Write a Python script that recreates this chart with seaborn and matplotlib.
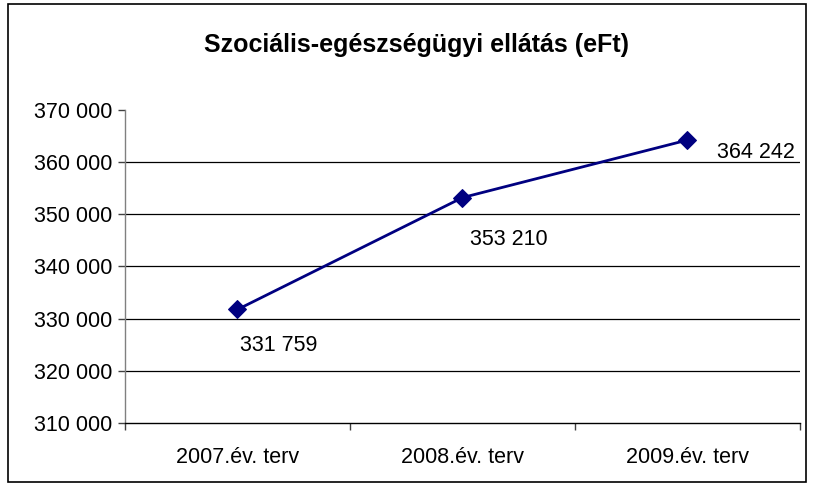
import numpy as np
import pandas as pd
import matplotlib
matplotlib.use("Agg")
import matplotlib.pyplot as plt
import seaborn as sns
from matplotlib.patches import Rectangle
from matplotlib.ticker import FuncFormatter, FixedLocator

CATEGORIES = ["2007.év. terv", "2008.év. terv", "2009.év. terv"]
VALUES     = [331759, 353210, 364242]
LABEL_OFFSETS = [(41, -36), (46, -42), (68, -12)]  # pixels from point
TITLE      = "Szociális-egészségügyi ellátás (eFt)"

LINE_COLOR = "#000080"
FS = 15.5

sns.set_theme(style="white")
plt.rcParams["font.family"] = ["Liberation Sans", "DejaVu Sans"]
plt.rcParams["text.color"] = "black"
plt.rcParams["xtick.labelcolor"] = "black"
plt.rcParams["ytick.labelcolor"] = "black"

fig = plt.figure(figsize=(8.14, 4.86), dpi=100)
W, H = 814, 486
ax = fig.add_axes([125 / W, 1 - 423 / H, (800 - 125) / W, (423 - 110) / H])

df = pd.DataFrame({"cat": CATEGORIES, "val": VALUES})
sns.lineplot(data=df, x="cat", y="val", ax=ax, sort=False, color=LINE_COLOR,
             linewidth=2, marker="D", markersize=9, markeredgecolor=LINE_COLOR)

fmt = lambda v: f"{int(v):,}".replace(",", " ")
for i, (v, off) in enumerate(zip(VALUES, LABEL_OFFSETS)):
    ax.annotate(fmt(v), (i, v), xytext=off, textcoords="offset pixels",
                ha="center", va="center", fontsize=FS, color="black")

ax.set_xlim(-0.5, 2.5)
ax.set_ylim(310000, 370000)
ax.set_yticks(np.arange(310000, 370001, 10000))
ax.yaxis.set_major_formatter(FuncFormatter(lambda v, p: fmt(v)))
ax.set_xticks(range(len(CATEGORIES)))
ax.set_xticklabels(CATEGORIES)
ax.xaxis.set_minor_locator(FixedLocator([-0.5, 0.5, 1.5, 2.5]))
ax.tick_params(axis="x", which="major", length=0, pad=17, labelsize=FS, labelcolor="black")
ax.tick_params(axis="x", which="minor", length=5, width=1, color="#404040", direction="out", bottom=True)
ax.tick_params(axis="y", length=5, width=1, color="#404040", direction="out", left=True,
               labelsize=FS, pad=4, labelcolor="black")
ax.set_xlabel("")
ax.set_ylabel("")

for y in range(320000, 370000, 10000):
    ax.axhline(y, color="black", linewidth=0.9, zorder=0)

ax.spines["top"].set_visible(False)
ax.spines["right"].set_visible(False)
ax.spines["left"].set_color("#808080")
ax.spines["left"].set_linewidth(1)
ax.spines["bottom"].set_color("black")
ax.spines["bottom"].set_linewidth(1)

fig.text(416 / W, 1 - 45 / H, TITLE, ha="center", va="center",
         fontsize=18, fontweight="bold", color="black")

fig.patches.append(Rectangle((8 / W, 4 / H), (806 - 8) / W, (482 - 4) / H,
                             transform=fig.transFigure, fill=False,
                             edgecolor="black", linewidth=1.2))

fig.savefig("out.png", dpi=100)
